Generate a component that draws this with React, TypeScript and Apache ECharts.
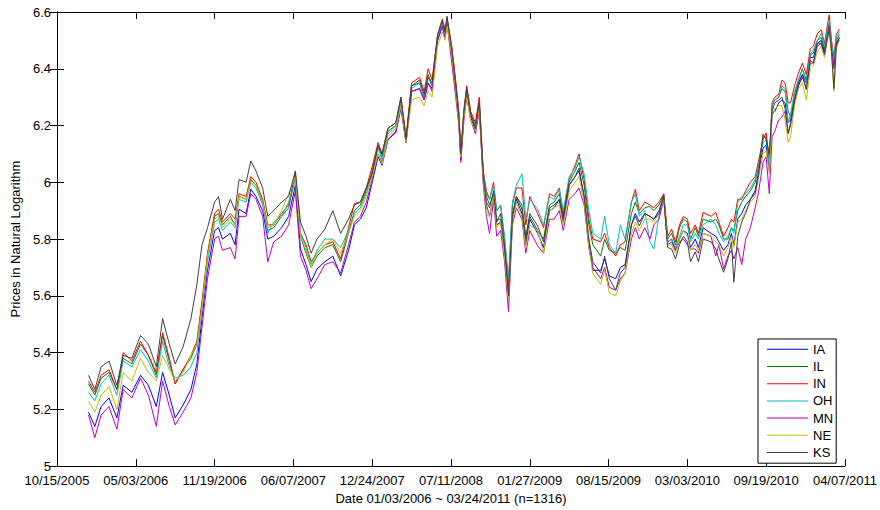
import { useEffect, useRef } from "react";
import * as echarts from "echarts";

// Sample dates, as days since 10/15/2005 (the x axis origin)
const days = [
  80, 96, 112, 132, 152, 168, 190, 212, 232, 252,
  268, 285, 300, 320, 340, 355, 368, 382, 400, 410,
  420, 440, 452, 462, 480, 492, 505, 522, 535, 550,
  570, 588, 605, 618, 632, 645, 660, 680, 700, 720,
  740, 755, 770, 785, 800, 815, 825, 840, 860, 873,
  886, 900, 920, 932, 942, 952, 966, 978, 985, 990,
  1002, 1012, 1020, 1025, 1033, 1040, 1050, 1062, 1072, 1082,
  1090, 1098, 1108, 1116, 1126, 1136, 1146, 1156, 1166, 1180,
  1190, 1200, 1220, 1235, 1250, 1262, 1275, 1285, 1300, 1315,
  1325, 1338, 1350, 1360, 1380, 1390, 1402, 1418, 1430, 1442,
  1458, 1468, 1478, 1492, 1505, 1515, 1528, 1540, 1550, 1560,
  1570, 1580, 1590, 1600, 1608, 1620, 1628, 1640, 1660, 1672,
  1680, 1692, 1703, 1712, 1718, 1728, 1738, 1748, 1760, 1772,
  1780, 1792, 1800, 1808, 1815, 1822, 1832, 1840, 1848, 1856,
  1862, 1872, 1882, 1892, 1902, 1912, 1920, 1930, 1940, 1948,
  1960, 1966, 1972, 1978, 1986,
];

const IA = [
  5.19, 5.14, 5.21, 5.24, 5.17, 5.285, 5.26, 5.32, 5.285, 5.21,
  5.33, 5.25, 5.17, 5.215, 5.27, 5.36, 5.52, 5.69, 5.83, 5.84,
  5.80, 5.82, 5.78, 5.905, 5.89, 5.976, 5.95, 5.90, 5.80, 5.81,
  5.84, 5.88, 5.99, 5.765, 5.71, 5.65, 5.695, 5.72, 5.74, 5.67,
  5.76, 5.85, 5.87, 5.91, 6.00, 6.09, 6.06, 6.15, 6.175, 6.26,
  6.14, 6.32, 6.33, 6.29, 6.35, 6.33, 6.50, 6.55, 6.51, 6.56,
  6.45, 6.33, 6.22, 6.08, 6.24, 6.31, 6.23, 6.18, 6.26, 6.01,
  5.92, 5.88, 5.95, 5.85, 5.86, 5.76, 5.61, 5.88, 5.94, 5.89,
  5.78, 5.87, 5.82, 5.77, 5.90, 5.91, 5.94, 5.86, 5.99, 6.02,
  6.04, 5.95, 5.79, 5.69, 5.69, 5.73, 5.67, 5.66, 5.70, 5.71,
  5.85, 5.89, 5.86, 5.89, 5.88, 5.87, 5.90, 5.95, 5.79, 5.80,
  5.76, 5.80, 5.83, 5.82, 5.77, 5.80, 5.77, 5.84, 5.82, 5.81,
  5.79, 5.76, 5.78, 5.82, 5.78, 5.87, 5.89, 5.92, 5.94, 5.97,
  6.03, 6.12, 6.13, 6.04, 6.24, 6.25, 6.28, 6.29, 6.28, 6.21,
  6.22, 6.29, 6.35, 6.38, 6.35, 6.44, 6.44, 6.49, 6.50, 6.46,
  6.55, 6.47, 6.41, 6.49, 6.51,
];

const IL = [
  5.29, 5.25, 5.31, 5.33, 5.27, 5.38, 5.36, 5.43, 5.39, 5.32,
  5.46, 5.37, 5.29, 5.34, 5.38, 5.43, 5.57, 5.74, 5.88, 5.89,
  5.85, 5.88, 5.85, 5.95, 5.94, 6.01, 5.99, 5.93, 5.83, 5.84,
  5.88, 5.91, 6.02, 5.81, 5.75, 5.70, 5.74, 5.77, 5.78, 5.72,
  5.82, 5.90, 5.92, 5.97, 6.04, 6.13, 6.09, 6.18, 6.20, 6.29,
  6.15, 6.34, 6.35, 6.30, 6.38, 6.34, 6.51, 6.56, 6.53, 6.57,
  6.47, 6.35, 6.24, 6.10, 6.25, 6.33, 6.24, 6.20, 6.28, 6.03,
  5.95, 5.92, 5.96, 5.87, 5.87, 5.77, 5.63, 5.89, 5.95, 5.92,
  5.81, 5.88, 5.83, 5.80, 5.92, 5.93, 5.96, 5.88, 6.00, 6.04,
  6.07, 5.99, 5.85, 5.78, 5.74, 5.80, 5.76, 5.75, 5.77, 5.76,
  5.89, 5.93, 5.89, 5.91, 5.915, 5.90, 5.92, 5.955, 5.80, 5.82,
  5.78, 5.84, 5.87, 5.86, 5.80, 5.84, 5.81, 5.87, 5.86, 5.87,
  5.85, 5.80, 5.80, 5.84, 5.83, 5.90, 5.93, 5.95, 5.97, 6.00,
  6.05, 6.16, 6.16, 6.07, 6.27, 6.29, 6.30, 6.33, 6.32, 6.25,
  6.23, 6.31, 6.36, 6.40, 6.36, 6.45, 6.455, 6.50, 6.51, 6.47,
  6.56, 6.48, 6.42, 6.50, 6.52,
];

const IN = [
  5.30, 5.26, 5.32, 5.34, 5.27, 5.40, 5.37, 5.44, 5.39, 5.33,
  5.47, 5.38, 5.29, 5.34, 5.39, 5.44, 5.58, 5.75, 5.89, 5.905,
  5.86, 5.89, 5.87, 5.96, 5.95, 6.02, 6.00, 5.94, 5.85, 5.85,
  5.89, 5.92, 6.035, 5.82, 5.78, 5.72, 5.75, 5.78, 5.79, 5.73,
  5.84, 5.925, 5.93, 5.98, 6.055, 6.14, 6.10, 6.19, 6.21, 6.30,
  6.16, 6.35, 6.37, 6.32, 6.40, 6.36, 6.52, 6.575, 6.54, 6.58,
  6.48, 6.36, 6.25, 6.11, 6.26, 6.34, 6.25, 6.21, 6.30, 6.04,
  5.97, 5.94, 6.00, 5.90, 5.92, 5.80, 5.64, 5.92, 5.98, 5.98,
  5.85, 5.95, 5.89, 5.84, 5.96, 5.95, 5.98, 5.89, 6.01, 6.06,
  6.10, 6.01, 5.87, 5.80, 5.79, 5.82, 5.77, 5.74, 5.78, 5.79,
  5.93, 5.975, 5.90, 5.93, 5.92, 5.91, 5.93, 5.96, 5.81, 5.835,
  5.79, 5.85, 5.88, 5.87, 5.82, 5.85, 5.82, 5.894, 5.88, 5.894,
  5.86, 5.81, 5.84, 5.87, 5.86, 5.94, 5.94, 5.97, 6.00, 6.02,
  6.07, 6.15, 6.174, 6.08, 6.28, 6.30, 6.31, 6.36, 6.35, 6.28,
  6.28, 6.34, 6.385, 6.42, 6.38, 6.47, 6.48, 6.525, 6.537, 6.49,
  6.59, 6.50, 6.44, 6.52, 6.54,
];

const OH = [
  5.26, 5.23, 5.29, 5.32, 5.25, 5.37, 5.35, 5.41, 5.37, 5.31,
  5.44, 5.35, 5.31, 5.32, 5.35, 5.40, 5.55, 5.72, 5.86, 5.87,
  5.83, 5.86, 5.84, 5.94, 5.93, 6.00, 5.98, 5.92, 5.82, 5.86,
  5.88, 5.93, 6.01, 5.82, 5.77, 5.71, 5.76, 5.80, 5.80, 5.77,
  5.83, 5.89, 5.91, 5.96, 6.03, 6.12, 6.08, 6.17, 6.20, 6.28,
  6.15, 6.33, 6.35, 6.30, 6.37, 6.34, 6.51, 6.56, 6.52, 6.57,
  6.46, 6.34, 6.23, 6.09, 6.24, 6.32, 6.24, 6.19, 6.27, 6.03,
  5.96, 5.94, 5.99, 5.90, 5.92, 5.81, 5.66, 5.93, 5.99, 6.03,
  5.87, 5.94, 5.905, 5.85, 5.95, 5.94, 5.975, 5.90, 6.02, 6.05,
  6.09, 6.03, 5.90, 5.82, 5.80, 5.88, 5.78, 5.75, 5.85, 5.80,
  5.93, 5.96, 5.88, 5.90, 5.79, 5.765, 5.88, 5.95, 5.79, 5.80,
  5.77, 5.81, 5.85, 5.85, 5.79, 5.82, 5.80, 5.85, 5.87, 5.85,
  5.82, 5.79, 5.81, 5.84, 5.82, 5.93, 5.95, 5.96, 5.98, 6.01,
  6.05, 6.14, 6.15, 6.06, 6.27, 6.29, 6.30, 6.34, 6.33, 6.21,
  6.24, 6.32, 6.36, 6.40, 6.35, 6.45, 6.466, 6.50, 6.525, 6.48,
  6.572, 6.49, 6.43, 6.51, 6.53,
];

const MN = [
  5.18, 5.10, 5.18, 5.21, 5.13, 5.27, 5.24, 5.31, 5.25, 5.14,
  5.30, 5.21, 5.145, 5.19, 5.24, 5.33, 5.49, 5.66, 5.80, 5.81,
  5.76, 5.77, 5.73, 5.88, 5.88, 5.96, 5.94, 5.88, 5.72, 5.79,
  5.81, 5.85, 5.97, 5.74, 5.69, 5.625, 5.66, 5.71, 5.72, 5.68,
  5.78, 5.86, 5.88, 5.93, 6.01, 6.10, 6.07, 6.15, 6.18, 6.27,
  6.14, 6.32, 6.33, 6.29, 6.35, 6.32, 6.50, 6.55, 6.51, 6.56,
  6.42, 6.30, 6.20, 6.07, 6.22, 6.30, 6.22, 6.17, 6.25, 5.99,
  5.88, 5.82, 5.94, 5.81, 5.83, 5.72, 5.545, 5.85, 5.91, 5.87,
  5.75, 5.83, 5.776, 5.75, 5.87, 5.87, 5.90, 5.83, 5.94, 5.96,
  5.98, 5.92, 5.77, 5.70, 5.66, 5.70, 5.63, 5.62, 5.66, 5.68,
  5.80, 5.84, 5.80, 5.84, 5.80, 5.85, 5.87, 5.94, 5.78, 5.79,
  5.76, 5.79, 5.80, 5.78, 5.765, 5.765, 5.75, 5.82, 5.81, 5.74,
  5.78, 5.695, 5.74, 5.76, 5.73, 5.77, 5.71, 5.80, 5.84, 5.91,
  5.96, 6.07, 6.09, 5.96, 6.16, 6.18, 6.22, 6.23, 6.25, 6.17,
  6.21, 6.28, 6.34, 6.37, 6.33, 6.42, 6.42, 6.48, 6.49, 6.45,
  6.55, 6.46, 6.40, 6.49, 6.50,
];

const NE = [
  5.23, 5.19, 5.25, 5.28, 5.20, 5.33, 5.30, 5.38, 5.33, 5.30,
  5.39, 5.34, 5.30, 5.33, 5.39, 5.43, 5.56, 5.74, 5.87, 5.88,
  5.84, 5.87, 5.85, 5.95, 5.94, 6.005, 5.99, 5.93, 5.84, 5.85,
  5.90, 5.96, 6.02, 5.81, 5.76, 5.70, 5.75, 5.78, 5.80, 5.75,
  5.82, 5.88, 5.90, 5.95, 6.02, 6.10, 6.065, 6.16, 6.19, 6.27,
  6.14, 6.29, 6.30, 6.27, 6.32, 6.30, 6.48, 6.53, 6.50, 6.55,
  6.45, 6.32, 6.21, 6.09, 6.23, 6.30, 6.22, 6.18, 6.26, 6.00,
  5.91, 5.88, 5.95, 5.84, 5.86, 5.74, 5.59, 5.86, 5.93, 5.88,
  5.77, 5.85, 5.83, 5.75, 5.90, 5.91, 5.92, 5.85, 5.97, 6.00,
  6.02, 5.93, 5.77, 5.68, 5.64, 5.69, 5.61, 5.60, 5.65, 5.68,
  5.82, 5.86, 5.83, 5.87, 5.87, 5.86, 5.89, 5.94, 5.78, 5.78,
  5.75, 5.80, 5.83, 5.81, 5.76, 5.78, 5.76, 5.82, 5.81, 5.79,
  5.78, 5.74, 5.77, 5.81, 5.77, 5.86, 5.87, 5.90, 5.93, 5.95,
  6.01, 6.10, 6.11, 6.03, 6.24, 6.26, 6.27, 6.27, 6.22, 6.14,
  6.16, 6.27, 6.33, 6.35, 6.29, 6.40, 6.41, 6.46, 6.48, 6.44,
  6.54, 6.45, 6.32, 6.47, 6.50,
];

const KS = [
  5.32, 5.27, 5.35, 5.37, 5.285, 5.39, 5.38, 5.46, 5.43, 5.35,
  5.52, 5.43, 5.36, 5.42, 5.52, 5.64, 5.78, 5.84, 5.93, 5.95,
  5.87, 5.94, 5.90, 6.01, 6.00, 6.075, 6.04, 5.98, 5.88, 5.90,
  5.93, 5.95, 6.04, 5.86, 5.81, 5.75, 5.80, 5.835, 5.90, 5.82,
  5.87, 5.92, 5.93, 5.98, 6.03, 6.13, 6.10, 6.19, 6.21, 6.30,
  6.15, 6.34, 6.36, 6.31, 6.37, 6.35, 6.52, 6.57, 6.53, 6.585,
  6.47, 6.34, 6.23, 6.10, 6.25, 6.33, 6.24, 6.19, 6.28, 6.02,
  5.93, 5.91, 5.97, 5.86, 5.89, 5.77, 5.60, 5.88, 5.95, 5.905,
  5.80, 5.89, 5.846, 5.79, 5.91, 5.92, 5.94, 5.87, 5.99, 6.02,
  6.05, 5.95, 5.80, 5.72, 5.68, 5.74, 5.66, 5.62, 5.68, 5.70,
  5.85, 5.88, 5.846, 5.89, 5.88, 5.87, 5.89, 5.95, 5.77, 5.765,
  5.73, 5.78, 5.81, 5.79, 5.72, 5.755, 5.72, 5.80, 5.79, 5.765,
  5.73, 5.683, 5.73, 5.79, 5.648, 5.81, 5.86, 5.89, 5.94, 5.96,
  6.02, 6.17, 6.15, 6.10, 6.25, 6.28, 6.29, 6.30, 6.26, 6.174,
  6.20, 6.29, 6.34, 6.38, 6.326, 6.43, 6.42, 6.49, 6.49, 6.45,
  6.54, 6.46, 6.33, 6.48, 6.51,
];

const seriesNames = ["IA", "IL", "IN", "OH", "MN", "NE", "KS"];
const seriesValues = [IA, IL, IN, OH, MN, NE, KS];
const seriesColors = ["#0000ff", "#008000", "#ff0000", "#00bfbf", "#bf00bf", "#bfbf00", "#404040"];

const xAxisStart = Date.UTC(2005, 9, 15); // 10/15/2005
const xMin = 0;
const xMax = 2000;
const xStep = 200;
const yMin = 5;
const yMax = 6.6;
const yStep = 0.2;

const xTitle = "Date 01/03/2006 ~ 03/24/2011 (n=1316)";
const yTitle = "Prices in Natural Logarithm";

const FONT = "'Liberation Sans', Arial, Helvetica, sans-serif";

function fmtDate(day: number): string {
  const d = new Date(xAxisStart + Math.round(day) * 86400000);
  const mm = String(d.getUTCMonth() + 1).padStart(2, "0");
  const dd = String(d.getUTCDate()).padStart(2, "0");
  return `${mm}/${dd}/${d.getUTCFullYear()}`;
}

function fmtY(v: number): string {
  return String(Math.round(v * 10) / 10);
}

export default function App() {
  const ref = useRef<HTMLDivElement>(null);

  useEffect(() => {
    document.body.style.margin = "0";
    if (!ref.current) return;
    const chart = echarts.init(ref.current, null, { renderer: "svg" });

    const axisLine = { show: true, lineStyle: { color: "#000", width: 1 } };
    const tick = { show: true, inside: true, length: 7, lineStyle: { color: "#000", width: 1 } };
    const label = { color: "#000", fontSize: 13, fontFamily: FONT };

    chart.setOption({
      animation: false,
      backgroundColor: "#fff",
      textStyle: { fontFamily: FONT },
      grid: { left: 57, right: 34, top: 12, bottom: 41, containLabel: false },
      xAxis: [
        {
          type: "value",
          position: "bottom",
          min: xMin,
          max: xMax,
          interval: xStep,
          axisLine,
          axisTick: tick,
          splitLine: { show: false },
          axisLabel: {
            ...label,
            margin: 8,
            formatter: (v: number) => fmtDate(v),
            showMinLabel: true,
            showMaxLabel: true,
            hideOverlap: false,
          },
          name: xTitle,
          nameLocation: "middle",
          nameGap: 21,
          nameTextStyle: { ...label },
        },
        {
          type: "value",
          position: "top",
          min: xMin,
          max: xMax,
          interval: xStep,
          axisLine,
          axisTick: tick,
          splitLine: { show: false },
          axisLabel: { show: false },
        },
      ],
      yAxis: [
        {
          type: "value",
          position: "left",
          min: yMin,
          max: yMax,
          interval: yStep,
          axisLine,
          axisTick: tick,
          splitLine: { show: false },
          axisLabel: { ...label, margin: 6, formatter: (v: number) => fmtY(v) },
          name: yTitle,
          nameLocation: "middle",
          nameGap: 27,
          nameTextStyle: { ...label },
        },
        {
          type: "value",
          position: "right",
          min: yMin,
          max: yMax,
          interval: yStep,
          axisLine,
          axisTick: tick,
          splitLine: { show: false },
          axisLabel: { show: false },
        },
      ],
      legend: {
        orient: "vertical",
        left: 758,
        top: 339,
        data: seriesNames,
        icon: "rect",
        itemWidth: 41,
        itemHeight: 1,
        itemGap: 3.2,
        padding: [3.3, 3, 3.7, 9],
        borderColor: "#000",
        borderWidth: 1,
        backgroundColor: "#fff",
        selectedMode: false,
        textStyle: { ...label, lineHeight: 14 },
      },
      series: seriesNames.map((name, i) => ({
        name,
        type: "line",
        xAxisIndex: 0,
        yAxisIndex: 0,
        symbol: "none",
        showSymbol: false,
        silent: true,
        color: seriesColors[i],
        itemStyle: { color: seriesColors[i] },
        lineStyle: { color: seriesColors[i], width: 1 },
        emphasis: { disabled: true },
        data: days.map((d, j) => [d, seriesValues[i][j]]),
      })),
    });

    return () => chart.dispose();
  }, []);

  return <div ref={ref} style={{ width: 880, height: 510 }} />;
}
